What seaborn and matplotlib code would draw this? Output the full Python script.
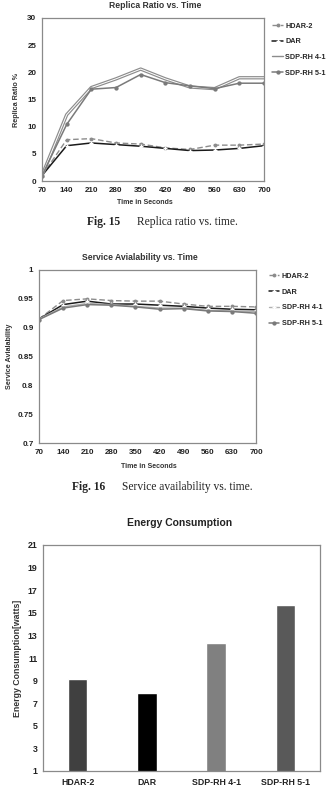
import numpy as np
import pandas as pd
import matplotlib
matplotlib.use("Agg")
import matplotlib.pyplot as plt
import matplotlib.patheffects as pe
import seaborn as sns

sns.set_theme(style="white")
plt.rcParams['font.family'] = ['Liberation Sans', 'DejaVu Sans']

times = [70, 140, 210, 280, 350, 420, 490, 560, 630, 700]
series_names = ["HDAR-2", "DAR", "SDP-RH 4-1", "SDP-RH 5-1"]

replica_hdar2 = [1.0, 7.6, 7.8, 7.0, 6.8, 6.1, 5.8, 6.6, 6.6, 6.8]
replica_dar = [1.0, 6.5, 7.0, 6.7, 6.4, 6.0, 5.6, 5.7, 6.0, 6.5]
replica_sdp41 = [1.0, 12.2, 17.2, 18.8, 20.6, 18.8, 17.3, 17.0, 19.0, 19.0]
replica_sdp51 = [1.0, 10.4, 16.9, 17.2, 19.6, 18.1, 17.5, 17.0, 18.0, 18.0]

avail_hdar2 = [0.915, 0.947, 0.950, 0.947, 0.946, 0.946, 0.941, 0.937, 0.937, 0.936]
avail_dar = [0.915, 0.940, 0.946, 0.941, 0.941, 0.939, 0.937, 0.934, 0.932, 0.931]
avail_sdp41 = [0.915, 0.936, 0.942, 0.940, 0.937, 0.934, 0.934, 0.930, 0.929, 0.928]
avail_sdp51 = [0.914, 0.934, 0.940, 0.939, 0.936, 0.932, 0.933, 0.929, 0.928, 0.925]

energy_labels = ["HDAR-2", "DAR", "SDP-RH 4-1", "SDP-RH 5-1"]
energy_values = [9.1, 7.9, 12.3, 15.7]
energy_colors = ["#404040", "#000000", "#808080", "#595959"]

W, H = 328, 793
fig = plt.figure(figsize=(W / 100, H / 100), dpi=100)

def ax_rect(l, t, r, b):
    return [l / W, (H - b) / H, (r - l) / W, (b - t) / H]

frame_col = "#8a8a8a"

def style_axes(ax, fs):
    for s in ax.spines.values():
        s.set_color(frame_col)
        s.set_linewidth(0.9)
    ax.tick_params(axis='both', direction='out', length=2.5, width=0.8,
                   color=frame_col, labelsize=fs, pad=1.5)
    for lab in ax.get_xticklabels() + ax.get_yticklabels():
        lab.set_fontweight('bold')
        lab.set_color('#222222')

def draw_lines(ax, vals, small):
    h, d, s41, s51 = vals
    ms = 2.8
    sns.lineplot(x=times, y=h, ax=ax, color="#8c8c8c", linestyle=(0, (4, 2)),
                 linewidth=1.0, marker='o', markersize=ms, markeredgewidth=0,
                 label=series_names[0])
    sns.lineplot(x=times, y=d, ax=ax, color="#1a1a1a", linewidth=1.1,
                 marker='+', markersize=3.5, markeredgewidth=1.0,
                 label=series_names[1])
    if small:
        sns.lineplot(x=times, y=s41, ax=ax, color="#b0b0b0", linewidth=1.0,
                     marker='+', markersize=3, markeredgewidth=0.8,
                     label=series_names[2])
    else:
        sns.lineplot(x=times, y=s41, ax=ax, color="white", linewidth=0.7,
                     path_effects=[pe.Stroke(linewidth=2.4, foreground="#8c8c8c"), pe.Normal()],
                     label=series_names[2])
    sns.lineplot(x=times, y=s51, ax=ax, color="#7a7a7a", linewidth=1.1,
                 marker='o', markersize=ms + 0.3, markeredgewidth=0,
                 label=series_names[3])

def fix_legend(leg, small):
    for hnd in leg.legend_handles:
        hnd.set_path_effects([])
    if not small:
        leg.legend_handles[2].set_color("#8c8c8c")
        leg.legend_handles[2].set_linewidth(1.0)

def caption(y, fig_label, text, x_fig, x_text):
    fig.text(x_fig / W, 1 - y / H, fig_label, ha='left', va='center', fontsize=8.3,
             family='Liberation Serif', fontweight='bold', color='#222222')
    fig.text(x_text / W, 1 - y / H, text, ha='left', va='center', fontsize=8.3,
             family='Liberation Serif', color='#222222')

# ---------- Top chart ----------
ax1 = fig.add_axes(ax_rect(42, 18, 264, 181))
draw_lines(ax1, (replica_hdar2, replica_dar, replica_sdp41, replica_sdp51), False)
ax1.set_xlim(70, 700)
ax1.set_ylim(0, 30)
ax1.set_xticks(times)
ax1.set_yticks(range(0, 31, 5))
ax1.set_xlabel("")
ax1.set_ylabel("Replica Ratio %", fontsize=5.2, fontweight='bold', color='#333333', labelpad=5)
style_axes(ax1, 5.8)
leg1 = ax1.legend(loc='upper left', bbox_to_anchor=(1.025, 0.99), frameon=False,
                  handlelength=1.5, handletextpad=0.3, labelspacing=1.2, borderaxespad=0.0,
                  prop={'weight': 'bold', 'size': 5.2})
fix_legend(leg1, False)
fig.text(155 / W, 1 - 6 / H, "Replica Ratio vs. Time", ha='center', va='center',
         fontsize=6.2, fontweight='bold', color='#333333')
fig.text(145 / W, 1 - 202 / H, "Time in Seconds", ha='center', va='center',
         fontsize=5, fontweight='bold', color='#333333')
caption(222, "Fig. 15", "Replica ratio vs. time.", 87, 137)

# ---------- Middle chart ----------
ax2 = fig.add_axes(ax_rect(39, 270, 256, 443))
draw_lines(ax2, (avail_hdar2, avail_dar, avail_sdp41, avail_sdp51), True)
ax2.set_xlim(70, 700)
ax2.set_ylim(0.7, 1.0)
ax2.set_xticks(times)
yt = [0.7, 0.75, 0.8, 0.85, 0.9, 0.95, 1.0]
ax2.set_yticks(yt)
ax2.set_yticklabels(["0.7", "0.75", "0.8", "0.85", "0.9", "0.95", "1"])
ax2.set_xlabel("")
ax2.set_ylabel("Service Avialability", fontsize=5.2, fontweight='bold', color='#333333', labelpad=3)
style_axes(ax2, 5.8)
leg2 = ax2.legend(loc='upper left', bbox_to_anchor=(1.045, 1.0), frameon=False,
                  handlelength=1.5, handletextpad=0.3, labelspacing=1.2, borderaxespad=0.0,
                  prop={'weight': 'bold', 'size': 5.2})
fix_legend(leg2, True)
fig.text(140 / W, 1 - 258 / H, "Service Avialability vs. Time", ha='center', va='center',
         fontsize=6.2, fontweight='bold', color='#333333')
fig.text(149 / W, 1 - 467 / H, "Time in Seconds", ha='center', va='center',
         fontsize=5, fontweight='bold', color='#333333')
caption(487, "Fig. 16", "Service availability vs. time.", 72, 122)

# ---------- Bottom chart ----------
ax3 = fig.add_axes(ax_rect(43, 545, 320, 771))
df_e = pd.DataFrame({"label": energy_labels, "value": energy_values})
sns.barplot(data=df_e, x="label", y="value", hue="label", palette=energy_colors,
            width=0.28, ax=ax3, legend=False, saturation=1.0)
ax3.set_ylim(1, 21)
ax3.set_yticks(range(1, 22, 2))
ax3.set_xlim(-0.5, 3.5)
ax3.set_xticks([-0.5, 0.5, 1.5, 2.5, 3.5], minor=False)
ax3.set_xticklabels([])
ax3.set_xticks([0, 1, 2, 3], minor=True)
ax3.set_xticklabels(energy_labels, minor=True)
ax3.tick_params(axis='x', which='minor', length=0, labelsize=6.3, pad=5)
ax3.set_xlabel("")
ax3.set_ylabel("Energy Consumption[watts]", fontsize=6.3, fontweight='bold', color='#333333', labelpad=4)
style_axes(ax3, 6.3)
for lab in ax3.get_xticklabels(minor=True):
    lab.set_fontweight('bold')
    lab.set_color('#222222')
    lab.set_fontsize(6.3)
fig.text(180 / W, 1 - 523 / H, "Energy Consumption", ha='center', va='center',
         fontsize=7.5, fontweight='bold', color='#222222')

fig.savefig("out.png", dpi=100)
